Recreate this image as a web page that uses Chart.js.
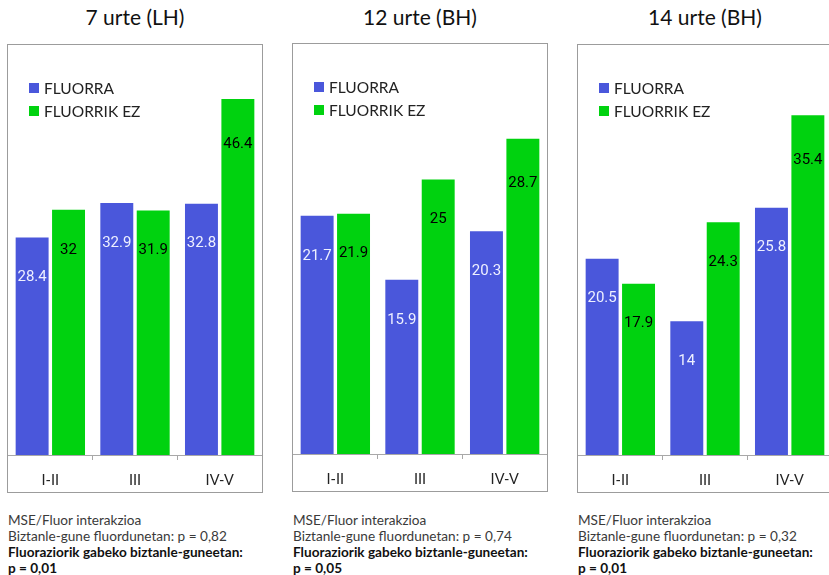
<!DOCTYPE html>
<html lang="eu">
<head>
<meta charset="UTF-8">
<title>Fluorra eta MSE</title>
<script src="https://cdn.jsdelivr.net/npm/chart.js"></script>
<style>
  html, body { margin: 0; padding: 0; background: #fff; }
  body { width: 829px; height: 575px; overflow: hidden; position: relative; font-family: Lato, "Open Sans", sans-serif; }
  .title { position: absolute; top: 4px; width: 256px; text-align: center; font-size: 21px; color: #111; }
  .box { position: absolute; top: 44px; width: 256px; height: 449px; border: 1px solid #9c9c9c; box-sizing: border-box; }
  .box canvas { display: block; }
  .note { position: absolute; top: 512px; font-size: 13.6px; line-height: 16px; color: #3a3a3a; white-space: nowrap; }
  .note b { color: #111; font-weight: 700; }
</style>
</head>
<body>
  <div class="title" style="left:7px">7 urte (LH)</div>
  <div class="title" style="left:292px">12 urte (BH)</div>
  <div class="title" style="left:577px">14 urte (BH)</div>

  <div class="box" style="left:7px"><canvas id="c7" width="254" height="447"></canvas></div>
  <div class="box" style="left:292px; top:43px"><canvas id="c12" width="254" height="447"></canvas></div>
  <div class="box" style="left:577px"><canvas id="c14" width="254" height="447"></canvas></div>

  <div class="note" style="left:8px">MSE/Fluor interakzioa<br>Biztanle-gune fluordunetan: p = 0,82<br><b>Fluoraziorik gabeko biztanle-guneetan:<br>p = 0,01</b></div>
  <div class="note" style="left:293px">MSE/Fluor interakzioa<br>Biztanle-gune fluordunetan: p = 0,74<br><b>Fluoraziorik gabeko biztanle-guneetan:<br>p = 0,05</b></div>
  <div class="note" style="left:578px">MSE/Fluor interakzioa<br>Biztanle-gune fluordunetan: p = 0,32<br><b>Fluoraziorik gabeko biztanle-guneetan:<br>p = 0,01</b></div>

<script>
// datuak
const categories = ['I-II', 'III', 'IV-V'];
const seriesNames = ['FLUORRA', 'FLUORRIK EZ'];

const fluorra7 = [28.4, 32.9, 32.8];
const fluorrikEz7 = [32, 31.9, 46.4];

const fluorra12 = [21.7, 15.9, 20.3];
const fluorrikEz12 = [21.9, 25, 28.7];

const fluorra14 = [20.5, 14, 25.8];
const fluorrikEz14 = [17.9, 24.3, 35.4];

const blue = '#4a57db';
const green = '#00d20f';

// barren barruko balioak
const valueLabels = {
  id: 'valueLabels',
  afterDatasetsDraw(chart) {
    const ctx = chart.ctx;
    ctx.save();
    ctx.font = '15px Roboto, sans-serif';
    ctx.textAlign = 'center';
    ctx.textBaseline = 'middle';
    chart.data.datasets.forEach((ds, i) => {
      chart.getDatasetMeta(i).data.forEach((bar, j) => {
        ctx.fillStyle = i === 0 ? '#eef0ff' : '#000';
        const off = bar.height > 300 ? 46 : 41;
        ctx.fillText(String(ds.data[j]), bar.x, bar.y + off);
      });
    });
    ctx.restore();
  }
};

// legenda koadroaren barruan
const boxLegend = {
  id: 'boxLegend',
  afterDraw(chart) {
    const ctx = chart.ctx;
    ctx.save();
    ctx.font = '15.5px Lato, sans-serif';
    ctx.textBaseline = 'middle';
    chart.data.datasets.forEach((ds, i) => {
      const y = 43 + i * 23;
      ctx.fillStyle = ds.backgroundColor;
      ctx.fillRect(21, y - 5, 10, 10);
      ctx.fillStyle = '#222';
      ctx.fillText(ds.label, 36, y + 0.5);
    });
    ctx.restore();
  }
};

function makeChart(id, a, b, yMax) {
  new Chart(document.getElementById(id), {
    type: 'bar',
    data: {
      labels: categories,
      datasets: [
        { label: seriesNames[0], data: a, backgroundColor: blue, borderColor: 'rgba(255,255,255,0.3)', borderWidth: 1 },
        { label: seriesNames[1], data: b, backgroundColor: green, borderColor: 'rgba(255,255,255,0.3)', borderWidth: 1 }
      ]
    },
    options: {
      responsive: false,
      animation: false,
      events: [],
      categoryPercentage: 0.86,
      barPercentage: 0.96,
      layout: { padding: 0 },
      plugins: { legend: { display: false }, tooltip: { enabled: false } },
      scales: {
        y: { display: false, min: 0, max: yMax },
        x: {
          afterFit(scale) { scale.height = 37; },
          border: { color: '#a8a8a8', width: 1 },
          grid: { offset: true, drawOnChartArea: false, tickLength: 5, color: '#a8a8a8' },
          ticks: { color: '#222', font: { family: 'Lato', size: 14.5 }, padding: 12 }
        }
      }
    },
    plugins: [valueLabels, boxLegend]
  });
}

makeChart('c7', fluorra7, fluorrikEz7, 53.3);
makeChart('c12', fluorra12, fluorrikEz12, 37.2);
makeChart('c14', fluorra14, fluorrikEz14, 42.6);
</script>
</body>
</html>
